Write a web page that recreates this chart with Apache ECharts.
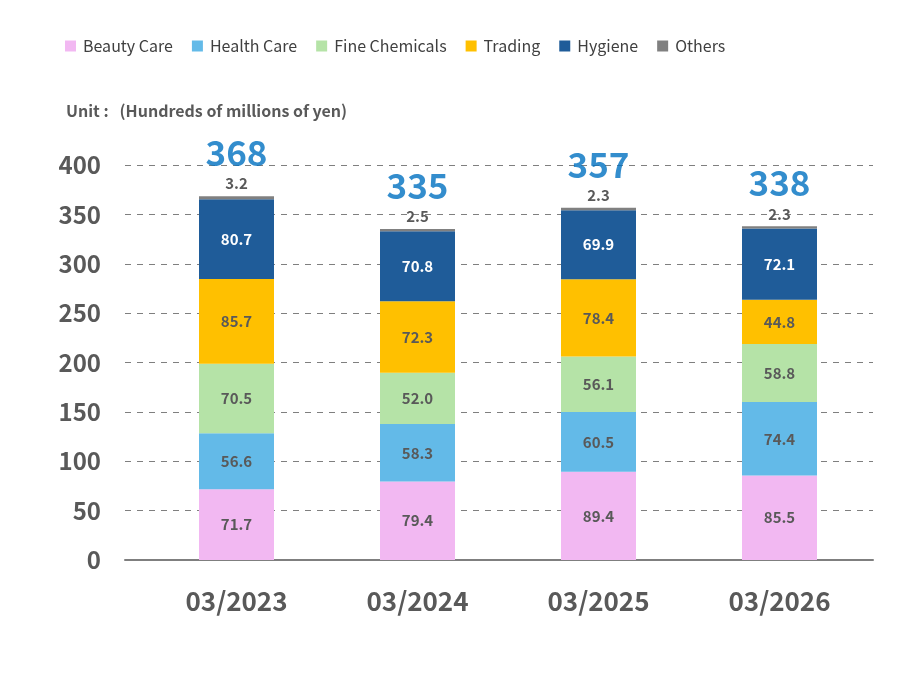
<!DOCTYPE html>
<html><head><meta charset="utf-8">
<script src="https://cdn.jsdelivr.net/npm/echarts@6/dist/echarts.min.js"></script>
<style>html,body{margin:0;padding:0;background:#fff}#c{width:900px;height:700px}</style>
</head><body><div id="c"></div>
<script>
const categories = ['03/2023','03/2024','03/2025','03/2026'];
const beautyCare = [71.7, 79.4, 89.4, 85.5];
const healthCare = [56.6, 58.3, 60.5, 74.4];
const fineChemicals = [70.5, 52.0, 56.1, 58.8];
const trading = [85.7, 72.3, 78.4, 44.8];
const hygiene = [80.7, 70.8, 69.9, 72.1];
const others = [3.2, 2.5, 2.3, 2.3];
const totals = [368, 335, 357, 338];
const yTicks = [0, 50, 100, 150, 200, 250, 300, 350, 400];

const FONT = '"Noto Sans CJK JP","Noto Sans",sans-serif';
const gray = '#595959';
const names = ['Beauty Care','Health Care','Fine Chemicals','Trading','Hygiene','Others'];
const colors = ['#F2B8F2','#63BAE8','#B5E3A7','#FFC000','#1F5C99','#808080'];
const dataSets = [beautyCare, healthCare, fineChemicals, trading, hygiene, others];

const chart = echarts.init(document.getElementById('c'));
const series = dataSets.map((d, i) => ({
  name: names[i], type: 'bar', stack: 'total', xAxisIndex: 1, yAxisIndex: 1,
  barWidth: 75, data: d, itemStyle: { color: colors[i] },
  label: i === 5 ? {
    show: true, position: 'top', distance: 5, color: gray, fontWeight: 'bold', fontSize: 15, fontFamily: FONT,
    formatter: p => p.value.toFixed(1)
  } : {
    show: true, position: 'inside', color: i === 4 ? '#ffffff' : gray, fontWeight: 'bold', fontSize: 15, fontFamily: FONT,
    formatter: p => p.value.toFixed(1)
  }
}));
const sums = categories.map((c, j) => dataSets.reduce((s, d) => s + d[j], 0));
series.push({
  type: 'scatter', xAxisIndex: 1, yAxisIndex: 1, symbolSize: 0, silent: true,
  data: sums.map((v, j) => [j, v]),
  label: { show: true, position: 'top', distance: 26, color: '#0070C0', fontWeight: 'bold', fontSize: 35, fontFamily: FONT,
    formatter: p => String(totals[p.dataIndex]) }
});

chart.setOption({
  animation: false,
  textStyle: { fontFamily: FONT },
  legend: {
    data: names, left: 60, top: 33, itemWidth: 11, itemHeight: 11, itemGap: 19, icon: 'rect',
    textStyle: { fontSize: 16, color: '#404040', fontFamily: FONT, padding: [0, 0, 0, 2] }
  },
  title: {
    text: 'Unit :   (Hundreds of millions of yen)', left: 61, top: 98,
    textStyle: { fontSize: 16, fontWeight: 'bold', color: gray, fontFamily: FONT }
  },
  grid: [
    { left: 125, right: 27, top: 165, bottom: 140 },
    { left: 146, right: 30, top: 165, bottom: 140 }
  ],
  xAxis: [
    { type: 'category', gridIndex: 0, data: categories, axisLine: { lineStyle: { color: '#7f7f7f', width: 2 } },
      axisTick: { show: false }, axisLabel: { show: false } },
    { type: 'category', gridIndex: 1, data: categories, axisLine: { show: false }, axisTick: { show: false },
      axisLabel: { fontSize: 26, fontWeight: 'bold', color: gray, margin: 28, fontFamily: FONT } }
  ],
  yAxis: [
    { type: 'value', gridIndex: 0, min: 0, max: 400, interval: 50,
      axisLine: { show: false }, axisTick: { show: false },
      axisLabel: { fontSize: 24, fontWeight: 'bold', color: gray, margin: 24, fontFamily: FONT },
      splitLine: { lineStyle: { type: [6, 6], color: '#7f7f7f', width: 1 } } },
    { type: 'value', gridIndex: 1, min: 0, max: 400, interval: 50, show: false, splitLine: { show: false } }
  ],
  series: series
});
</script></body></html>
